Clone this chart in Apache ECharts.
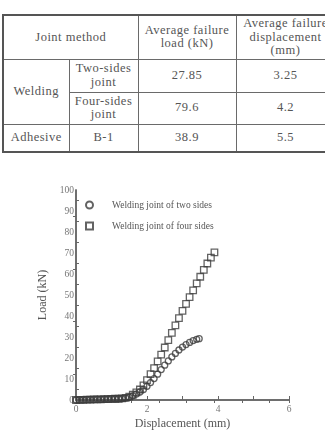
<!DOCTYPE html>
<html>
<head>
<meta charset="utf-8">
<script src="https://cdn.jsdelivr.net/npm/echarts@6/dist/echarts.min.js"></script>
<style>
  html, body { margin: 0; padding: 0; background: #fff; overflow: hidden; }
  #wrap { position: relative; width: 325px; height: 438px; overflow: hidden; }
  #chart { position: absolute; left: 0; top: 0; width: 325px; height: 438px; }
  table {
    position: absolute; left: 2px; top: 14px; width: 332px;
    border-collapse: collapse; table-layout: fixed;
    font-family: "Liberation Serif", serif; font-size: 12.5px; color: #555;
    letter-spacing: 0.5px; z-index: 2; background: #fff;
  }
  td { border: 1.5px solid #6a6a6a; text-align: center; padding: 0; line-height: 13.5px; }
  tr.top td { border-top: 2px solid #555; }
  tr.bot td { border-bottom: 2px solid #555; }
  td.l { border-left: 2px solid #555; }
</style>
</head>
<body>
<div id="wrap">
  <div id="chart"></div>
  <table id="tbl"></table>
</div>
<script>
// 表格数据
const headers = ['Joint method', 'Average failure<br>load (kN)', 'Average failure<br>displacement<br>(mm)']
const methods = ['Welding', 'Welding', 'Adhesive']
const joints = ['Two-sides<br>joint', 'Four-sides<br>joint', 'B-1']
const failLoad = ['27.85', '79.6', '38.9']
const failDisp = ['3.25', '4.2', '5.5']

// 曲线数据
const seriesNames = ['Welding joint of two sides', 'Welding joint of four sides']
const twoX = [0.0, 0.1, 0.2, 0.3, 0.4, 0.5, 0.6, 0.7, 0.8, 0.9, 1.0, 1.1, 1.2, 1.3, 1.4, 1.5, 1.6, 1.7, 1.8, 1.9, 2.0, 2.1, 2.2, 2.3, 2.4, 2.5, 2.6, 2.7, 2.8, 2.9, 3.0, 3.1, 3.2, 3.3, 3.4, 3.47]
const twoY = [0.0, 0.1, 0.1, 0.2, 0.2, 0.2, 0.3, 0.3, 0.4, 0.4, 0.5, 0.5, 0.6, 0.7, 0.9, 1.3, 2.0, 2.8, 3.8, 5.0, 6.5, 8.3, 10.2, 12.3, 14.5, 16.6, 18.6, 20.5, 22.2, 23.8, 25.2, 26.4, 27.4, 28.3, 28.9, 29.2]
const fourX = [0.0, 0.1, 0.2, 0.3, 0.4, 0.5, 0.6, 0.7, 0.8, 0.9, 1.0, 1.1, 1.2, 1.3, 1.4, 1.5, 1.6, 1.7, 1.8, 1.9, 2.0, 2.1, 2.2, 2.3, 2.4, 2.5, 2.6, 2.7, 2.8, 2.9, 3.0, 3.1, 3.2, 3.3, 3.4, 3.5, 3.6, 3.7, 3.8, 3.9]
const fourY = [0.0, 0.1, 0.1, 0.2, 0.2, 0.3, 0.3, 0.3, 0.4, 0.4, 0.5, 0.6, 0.6, 0.8, 1.0, 1.6, 2.5, 3.6, 5.0, 7.0, 9.5, 12.3, 15.2, 18.4, 21.6, 25.0, 28.5, 32.0, 35.5, 39.0, 42.4, 45.8, 49.0, 52.2, 55.5, 58.7, 62.0, 65.0, 67.8, 70.3]

// 建表
const tbl = document.getElementById('tbl')
tbl.innerHTML =
  '<colgroup><col style="width:66px"><col style="width:69px"><col style="width:98px"><col style="width:99px"></colgroup>' +
  '<tr class="top" style="height:44px"><td class="l" colspan="2">' + headers[0] + '</td><td>' + headers[1] + '</td><td>' + headers[2] + '</td></tr>' +
  '<tr style="height:33px"><td class="l" rowspan="2">' + methods[0] + '</td><td>' + joints[0] + '</td><td>' + failLoad[0] + '</td><td>' + failDisp[0] + '</td></tr>' +
  '<tr style="height:32px"><td>' + joints[1] + '</td><td>' + failLoad[1] + '</td><td>' + failDisp[1] + '</td></tr>' +
  '<tr class="bot" style="height:28px"><td class="l">' + methods[2] + '</td><td>' + joints[2] + '</td><td>' + failLoad[2] + '</td><td>' + failDisp[2] + '</td></tr>'

const toPairs = (xs, ys) => xs.map((x, i) => [x, ys[i]])

const chart = echarts.init(document.getElementById('chart'))
const font = 'Liberation Serif'
const lineColor = '#666'
const markStyle = {
  color: 'rgba(0,0,0,0)',
  borderColor: '#3c3c3c',
  borderWidth: 1.3
}

chart.setOption({
  animation: false,
  grid: { left: 76, right: 36, top: 190, bottom: 38 },
  legend: {
    orient: 'vertical',
    left: 85,
    top: 200,
    padding: 0,
    itemWidth: 7,
    itemHeight: 7,
    itemGap: 11,
    data: seriesNames,
    textStyle: { fontFamily: font, fontSize: 9.5, color: '#555', padding: [0, 0, 0, 14] }
  },
  xAxis: [{
    type: 'value',
    min: 0,
    max: 6,
    interval: 1,
    name: 'Displacement (mm)',
    nameLocation: 'middle',
    nameGap: 18,
    nameTextStyle: { fontFamily: font, fontSize: 12, color: '#555' },
    axisLine: { show: true, lineStyle: { color: lineColor, width: 1.5 } },
    axisTick: { inside: true, length: 4, lineStyle: { color: lineColor } },
    axisLabel: {
      fontFamily: font, fontSize: 9.5, color: '#777', margin: 4,
      formatter: v => (v % 2 === 0 ? String(v) : '')
    },
    splitLine: { show: false }
  }, {
    type: 'value',
    position: 'top',
    min: 0,
    max: 7.7,
    interval: 1,
    axisLine: { show: true, lineStyle: { color: lineColor, width: 1.5 } },
    axisTick: { inside: true, length: 3, lineStyle: { color: lineColor } },
    axisLabel: { show: false },
    splitLine: { show: false }
  }],
  yAxis: [{
    type: 'value',
    min: 0,
    max: 100,
    interval: 10,
    name: 'Load (kN)',
    nameLocation: 'middle',
    nameGap: 23,
    nameTextStyle: { fontFamily: font, fontSize: 12, color: '#555' },
    axisLine: { show: true, lineStyle: { color: lineColor, width: 1.5 } },
    axisTick: { show: false, inside: true },
    minorTick: { show: true, splitNumber: 2, length: 3, lineStyle: { color: lineColor } },
    axisLabel: { fontFamily: font, fontSize: 9.5, color: '#777', margin: 2 },
    splitLine: { show: false }
  }, {
    type: 'value',
    position: 'right',
    min: 0,
    max: 100,
    interval: 25,
    axisLine: { show: true, lineStyle: { color: lineColor, width: 1.5 } },
    axisTick: { show: false, inside: true },
    minorTick: { show: true, splitNumber: 2, length: 3, lineStyle: { color: lineColor } },
    axisLabel: { show: false },
    splitLine: { show: false }
  }],
  series: [{
    name: seriesNames[0],
    type: 'scatter',
    symbol: 'circle',
    symbolSize: 6,
    itemStyle: markStyle,
    data: toPairs(twoX, twoY)
  }, {
    name: seriesNames[1],
    type: 'scatter',
    symbol: 'rect',
    symbolSize: 6.5,
    itemStyle: markStyle,
    data: toPairs(fourX, fourY)
  }]
})
</script>
</body>
</html>
